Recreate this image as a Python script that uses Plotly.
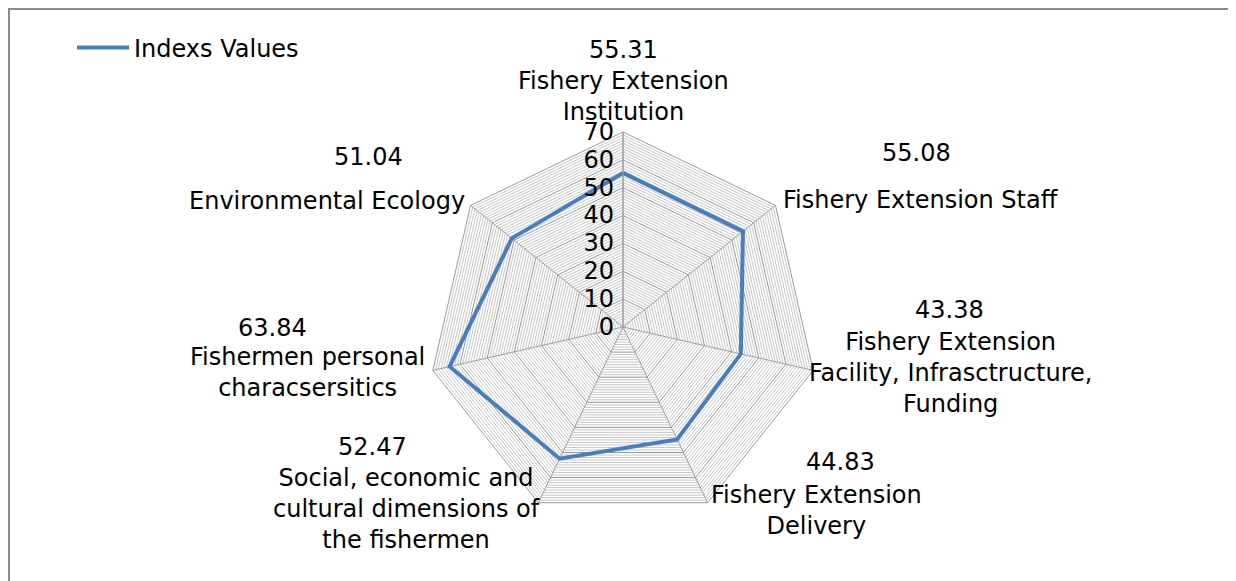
import plotly.graph_objects as go

categories = [
    "Fishery Extension<br>Institution",
    "Fishery Extension Staff",
    "Fishery Extension<br>Facility, Infrasctructure,<br>Funding",
    "Fishery Extension<br>Delivery",
    "Social, economic and<br>cultural dimensions of<br>the fishermen",
    "Fishermen personal<br>characsersitics",
    "Environmental Ecology",
]
values = [55.31, 55.08, 43.38, 44.83, 52.47, 63.84, 51.04]
series_name = "Indexs Values"
radial_ticks = [0, 10, 20, 30, 40, 50, 60, 70]

FONT = "DejaVu Sans"
FS = 24
W, H = 1236, 581
OFF = 8  # page body margin
cx, cy, R = 623 - OFF, 327 - OFF, 195


def px(x):
    return (x - OFF) / W


def py(y):
    return 1 - (y - OFF) / H


fig = go.Figure()

# minor gridlines (every 1 unit)
theta_closed = categories + [categories[0]]
for r in range(1, 70):
    if r % 10 == 0:
        continue
    fig.add_trace(go.Scatterpolar(
        r=[r] * len(theta_closed), theta=theta_closed, mode="lines",
        line=dict(color="#b8b8b8", width=0.8), hoverinfo="skip", showlegend=False))

fig.add_trace(go.Scatterpolar(
    r=values + [values[0]], theta=theta_closed, mode="lines", name=series_name,
    line=dict(color="#4a7ebb", width=4)))

polar_domain_x = [(cx - R) / W, (cx + R) / W]
polar_domain_y = [(H - cy - R) / H, (H - cy + R) / H]

# label annotations: (value x, value y, name x, name y) in reference pixels
label_pos = [
    (623, 50, 623, 96),
    (916, 153, 920, 200),
    (949, 310, 950, 373),
    (840, 462, 816, 510),
    (372, 447, 406, 509),
    (272, 328, 307, 372),
    (368, 157, 327, 201),
]
annotations = []
for cat, v, (vx, vy, nx, ny) in zip(categories, values, label_pos):
    annotations.append(dict(x=px(vx), y=py(vy), xref="paper", yref="paper",
                            xanchor="center", yanchor="middle",
                            text=f"{v:.2f}", showarrow=False,
                            font=dict(family=FONT, size=FS, color="#000")))
    annotations.append(dict(x=px(nx), y=py(ny), xref="paper", yref="paper",
                            xanchor="center", yanchor="middle",
                            text=cat, showarrow=False, align="center",
                            font=dict(family=FONT, size=FS, color="#000")))

fig.update_layout(
    width=W, height=H,
    margin=dict(l=0, r=0, t=0, b=0),
    paper_bgcolor="white",
    font=dict(family=FONT, size=FS, color="#000"),
    polar=dict(
        domain=dict(x=polar_domain_x, y=polar_domain_y),
        gridshape="linear",
        bgcolor="white",
        angularaxis=dict(direction="clockwise", rotation=90, showticklabels=False,
                         ticks="", showline=True, linecolor="#999999", linewidth=1,
                         gridcolor="#999999", gridwidth=1),
        radialaxis=dict(range=[0, 70], tickvals=radial_ticks, angle=90, tickangle=90,
                        side="counterclockwise", showline=True, linecolor="#999999",
                        gridcolor="#959595", gridwidth=1, ticks="",
                        ticksuffix="\u00a0",
                        tickfont=dict(family=FONT, size=FS, color="#000")),
    ),
    showlegend=True,
    legend=dict(x=px(72), y=py(48), xanchor="left", yanchor="middle", itemwidth=52,
                font=dict(family=FONT, size=FS, color="#000"), bgcolor="rgba(0,0,0,0)"),
    annotations=annotations,
    shapes=[
        dict(type="line", xref="paper", yref="paper", x0=0, x1=1, y0=1 - 1 / H, y1=1 - 1 / H,
             line=dict(color="#8a8a8a", width=2)),
        dict(type="line", xref="paper", yref="paper", x0=1 / W, x1=1 / W, y0=0, y1=1,
             line=dict(color="#8a8a8a", width=2)),
    ],
)

fig.write_html("out.html")
